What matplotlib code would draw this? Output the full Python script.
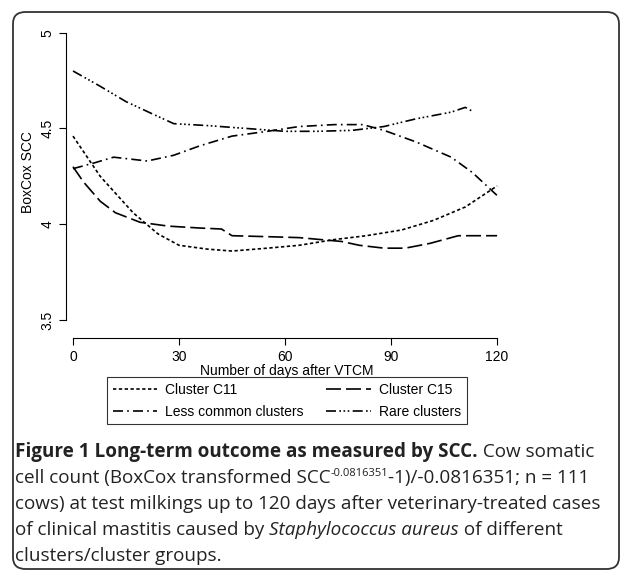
import matplotlib.pyplot as plt
from matplotlib.patches import FancyBboxPatch

# data
c11_x = [0, 7.7, 17, 24, 30, 38, 45, 55, 64, 74, 83, 93, 102, 111, 120]
c11_y = [4.46, 4.25, 4.06, 3.95, 3.89, 3.87, 3.86, 3.875, 3.89, 3.92, 3.94, 3.97, 4.02, 4.09, 4.20]
c15_x = [0, 3, 7.7, 12, 19, 27, 36, 42, 45, 55, 64, 70, 76, 81, 88, 94, 101, 109, 120]
c15_y = [4.30, 4.22, 4.12, 4.06, 4.01, 3.99, 3.98, 3.975, 3.94, 3.935, 3.93, 3.92, 3.91, 3.89, 3.875, 3.875, 3.90, 3.94, 3.94]
less_x = [0, 6, 11.5, 21, 28.5, 36, 45, 55, 64, 74, 82, 88, 97, 107, 113, 120]
less_y = [4.29, 4.32, 4.35, 4.33, 4.36, 4.41, 4.46, 4.485, 4.51, 4.52, 4.52, 4.49, 4.43, 4.35, 4.27, 4.15]
rare_x = [0, 7.7, 15, 22, 28.5, 38, 49, 60, 69, 79, 88, 97, 107, 111, 113]
rare_y = [4.80, 4.72, 4.64, 4.58, 4.525, 4.515, 4.50, 4.485, 4.485, 4.49, 4.51, 4.55, 4.585, 4.61, 4.59]
labels = ['Cluster C11', 'Cluster C15', 'Less common clusters', 'Rare clusters']
xticks = [0, 30, 60, 90, 120]
yticks = [3.5, 4, 4.5, 5]

W, H = 632, 581
fig = plt.figure(figsize=(W / 100, H / 100), dpi=100)
plt.rcParams['font.family'] = ['Liberation Sans', 'DejaVu Sans']

frame = FancyBboxPatch((13 / W, 12 / H), 606 / W, 557 / H, boxstyle='round,pad=0,rounding_size=0.02',
                       transform=fig.transFigure, fill=False, ec='#333333', lw=1.3)
fig.patches.append(frame)

# axes box in pixels: left 66, right 507, top 25, bottom 320
ax = fig.add_axes([66 / W, 1 - 320 / H, 441 / W, 295 / H])
ax.set_xlim(-1.98, 122.8)
ax.set_ylim(3.5, 5.04)
lw = 1.2
l1, = ax.plot(c11_x, c11_y, color='black', lw=lw, ls=(0, (2, 1.5)))
l2, = ax.plot(c15_x, c15_y, color='black', lw=lw, ls=(0, (9, 3)))
l3, = ax.plot(less_x, less_y, color='black', lw=lw, ls=(0, (6, 2.5, 1, 2.5)))
l4, = ax.plot(rare_x, rare_y, color='black', lw=lw, ls=(0, (6, 2, 1, 1.5, 1, 1.5, 1, 2)))

for s in ['top', 'right']:
    ax.spines[s].set_visible(False)
ax.spines['bottom'].set_position(('outward', 13))
ax.spines['bottom'].set_bounds(0, 120)
ax.spines['left'].set_bounds(3.5, 5)
ax.set_xticks(xticks)
ax.set_yticks(yticks)
ax.set_yticklabels(['3.5', '4', '4.5', '5'], rotation=90, va='center')
ax.tick_params(labelsize=10, length=5)
ax.set_xlabel('Number of days after VTCM', fontsize=10, labelpad=0)
ax.set_ylabel('BoxCox SCC', fontsize=10, labelpad=4)

leg = fig.legend([l1, l3, l2, l4], [labels[0], labels[2], labels[1], labels[3]], ncol=2, loc='upper left',
                 bbox_to_anchor=(107 / W, 1 - 377 / H), fontsize=10, frameon=True,
                 fancybox=False, edgecolor='black', handlelength=3.2, columnspacing=1.6,
                 borderaxespad=0, handletextpad=0.6, labelspacing=0.6, borderpad=0.4)
leg.get_frame().set_linewidth(0.8)

# caption
cap = ['Open Sans', 'DejaVu Sans']
fs = 13.6
renderer = fig.canvas.get_renderer()


def runs(x0, y0, parts):
    x = x0 / W
    for txt, kw in parts:
        kw = dict(kw)
        size = kw.pop('size', fs)
        dy = kw.pop('dy', 0)
        t = fig.text(x, 1 - (y0 - dy) / H, txt, fontsize=size, family=cap, va='baseline',
                     color='#222222', **kw)
        bb = t.get_window_extent(renderer)
        x = bb.x1 / W


base = 15
runs(base, 457, [('Figure 1 Long-term outcome as measured by SCC.', dict(weight='bold')),
                 (' Cow somatic', {})])
runs(base, 483, [('cell count (BoxCox transformed SCC', {}), ('-0.0816351', dict(size=8, dy=7)),
                 ('-1)/-0.0816351; n = 111', {})])
runs(base, 509, [('cows) at test milkings up to 120 days after veterinary-treated cases', {})])
runs(base, 535, [('of clinical mastitis caused by ', {}), ('Staphylococcus aureus', dict(style='italic')),
                 (' of different', {})])
runs(base, 561, [('clusters/cluster groups.', {})])

fig.savefig('out.png', dpi=100)
